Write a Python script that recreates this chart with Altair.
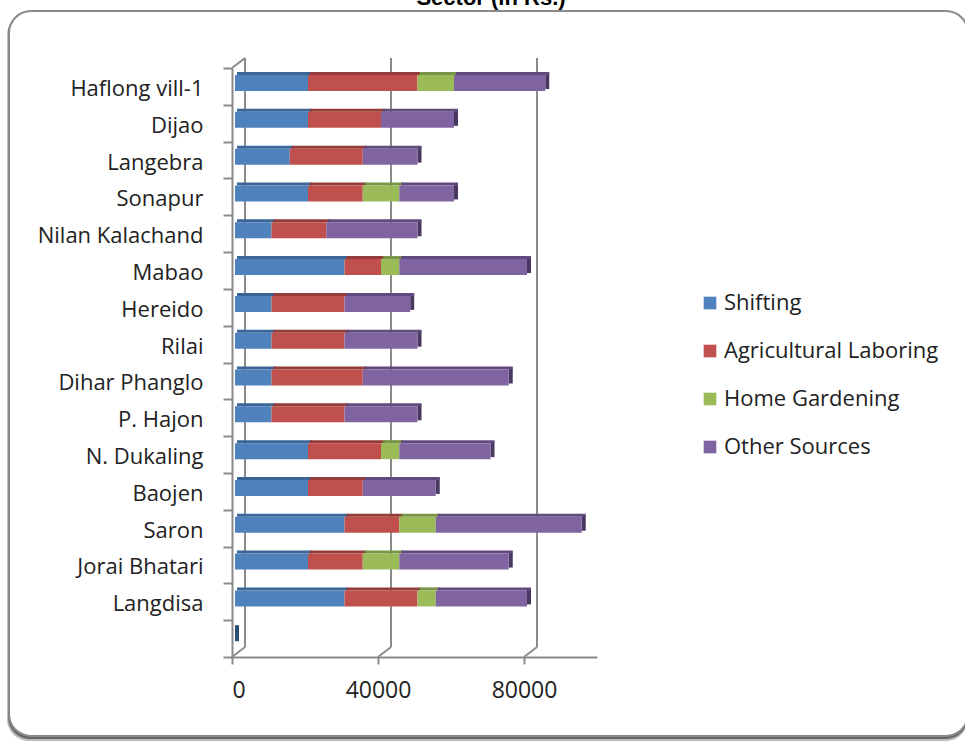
import altair as alt
import pandas as pd

# Household income by source for each village (Rs.)
villages = ["Haflong vill-1", "Dijao", "Langebra", "Sonapur", "Nilan Kalachand",
            "Mabao", "Hereido", "Rilai", "Dihar Phanglo", "P. Hajon",
            "N. Dukaling", "Baojen", "Saron", "Jorai Bhatari", "Langdisa", " "]
shifting = [20000, 20000, 15000, 20000, 10000, 30000, 10000, 10000, 10000, 10000,
            20000, 20000, 30000, 20000, 30000, 0]
agri_laboring = [30000, 20000, 20000, 15000, 15000, 10000, 20000, 20000, 25000, 20000,
                 20000, 15000, 15000, 15000, 20000, 0]
home_gardening = [10000, 0, 0, 10000, 0, 5000, 0, 0, 0, 0,
                  5000, 0, 10000, 10000, 5000, 0]
other_sources = [25000, 20000, 15000, 15000, 25000, 35000, 18000, 20000, 40000, 20000,
                 25000, 20000, 40000, 30000, 25000, 0]

series_names = ["Shifting", "Agricultural Laboring", "Home Gardening", "Other Sources"]
series_values = [shifting, agri_laboring, home_gardening, other_sources]
face_colors = ["#4F81BD", "#C0504D", "#9BBB59", "#8064A2"]
top_colors = ["#3A6597", "#953B39", "#789446", "#604A7E"]
side_colors = ["#2C4D74", "#72302E", "#5B7035", "#48385F"]
tick_values = [0, 40000, 80000]

# Stack the segments left to right
seg_rows, side_rows = [], []
for i, v in enumerate(villages):
    start = 0
    last = 0
    for k, name in enumerate(series_names):
        val = series_values[k][i]
        if val > 0:
            seg_rows.append({"village": v, "series": name, "start": start,
                             "end": start + val, "top": top_colors[k]})
            last = k
        start += val
    side_rows.append({"village": v, "total": start, "side": side_colors[last],
                      "top": top_colors[last]})
segs = pd.DataFrame(seg_rows)
sides = pd.DataFrame(side_rows)
ticks = pd.DataFrame({"v": tick_values})
one = pd.DataFrame({"a": [0]})

W, H = 365, 589
BAR = 16
DY = -3.4
GRAY = "#8a8a8a"
INK = "#222222"
FONT = "Open Sans"

xscale = alt.Scale(domain=[0, 100000], nice=False, zero=True)
yscale = alt.Scale(domain=villages, paddingInner=0, paddingOuter=0)

# Page frame with a soft drop shadow
shadow2 = alt.Chart(one).mark_rect(cornerRadius=22, fill="#bbbbbb").encode(
    x=alt.value(-225), x2=alt.value(736), y=alt.value(-55), y2=alt.value(673))
shadow = alt.Chart(one).mark_rect(cornerRadius=22, fill="#666666").encode(
    x=alt.value(-224), x2=alt.value(736), y=alt.value(-56), y2=alt.value(671))
frame = alt.Chart(one).mark_rect(cornerRadius=22, fill="white", stroke=GRAY,
                                 strokeWidth=2).encode(
    x=alt.value(-223), x2=alt.value(736), y=alt.value(-57), y2=alt.value(668))

title = alt.Chart(one).mark_text(text="Sector (in Rs.)", font="Liberation Sans",
                                 fontWeight="bold", fontSize=22, baseline="alphabetic",
                                 align="center", color="black").encode(
    x=alt.value(259), y=alt.value(-63))

# Back wall gridlines and floor connectors of the 3-D frame
grid = alt.Chart(ticks).mark_rule(color=GRAY, strokeWidth=2, xOffset=13).encode(
    x=alt.X("v:Q", scale=xscale), y=alt.value(-10), y2=alt.value(H - 10))
floor = alt.Chart(ticks).mark_rule(color=GRAY, strokeWidth=2, x2Offset=13).encode(
    x=alt.X("v:Q", scale=xscale), x2="v:Q", y=alt.value(H), y2=alt.value(H - 10))
corner = alt.Chart(ticks[ticks.v == 0]).mark_rule(color=GRAY, strokeWidth=2,
                                                  x2Offset=13).encode(
    x=alt.X("v:Q", scale=xscale), x2="v:Q", y=alt.value(0), y2=alt.value(-10))

x_axis = alt.Axis(values=tick_values, format="d", title=None, grid=False, zindex=1,
                  domainColor=GRAY, domainWidth=2, tickColor=GRAY, tickWidth=2,
                  tickSize=7, labelPadding=15, labelFont=FONT, labelFontSize=23,
                  labelColor=INK)
y_axis = alt.Axis(title=None, tickBand="extent", zindex=1,
                  domainColor=GRAY, domainWidth=2, tickColor=GRAY, tickWidth=2,
                  tickSize=9, labelPadding=20, labelFont=FONT, labelFontSize=22,
                  labelOffset=2, labelColor=INK)

# Front faces of the stacked bars
faces = alt.Chart(segs).mark_bar(size=BAR, xOffset=3, x2Offset=3, yOffset=DY).encode(
    x=alt.X("start:Q", scale=xscale, axis=x_axis),
    x2="end:Q",
    y=alt.Y("village:N", scale=yscale, sort=villages, axis=y_axis),
    color=alt.Color("series:N",
                    scale=alt.Scale(domain=series_names, range=face_colors),
                    legend=alt.Legend(title=None, orient="none", legendX=467,
                                      legendY=224, symbolType="square",
                                      symbolSize=160, symbolStrokeWidth=0,
                                      labelFontSize=22, labelFont=FONT,
                                      labelColor=INK, labelOffset=3,
                                      labelLimit=400, rowPadding=26, padding=0,
                                      zindex=2)),
)

# Top faces (depth) of each segment
tops = alt.Chart(segs).mark_bar(size=3, xOffset=5, x2Offset=7,
                                yOffset=DY - BAR / 2 - 1.5).encode(
    x=alt.X("start:Q", scale=xscale, axis=x_axis), x2="end:Q",
    y=alt.Y("village:N", scale=yscale, sort=villages, axis=y_axis),
    color=alt.Color("top:N", scale=None),
)

# Right-hand end faces
ends = alt.Chart(sides).mark_bar(size=BAR, xOffset=3, x2Offset=7,
                                 yOffset=DY - 2).encode(
    x=alt.X("total:Q", scale=xscale, axis=x_axis), x2="total:Q",
    y=alt.Y("village:N", scale=yscale, sort=villages, axis=y_axis),
    color=alt.Color("side:N", scale=None),
)

chart = alt.layer(shadow2, shadow, frame, title, grid, floor, corner, ends, tops, faces).properties(
    width=W, height=H,
    autosize=alt.AutoSizeParams(type="none"),
    padding={"left": 232, "top": 68, "right": 965 - 232 - W, "bottom": 742 - 68 - H},
    background="white",
).configure_view(stroke=None)

chart.save("out.html", embed_options={"renderer": "svg", "actions": False})
